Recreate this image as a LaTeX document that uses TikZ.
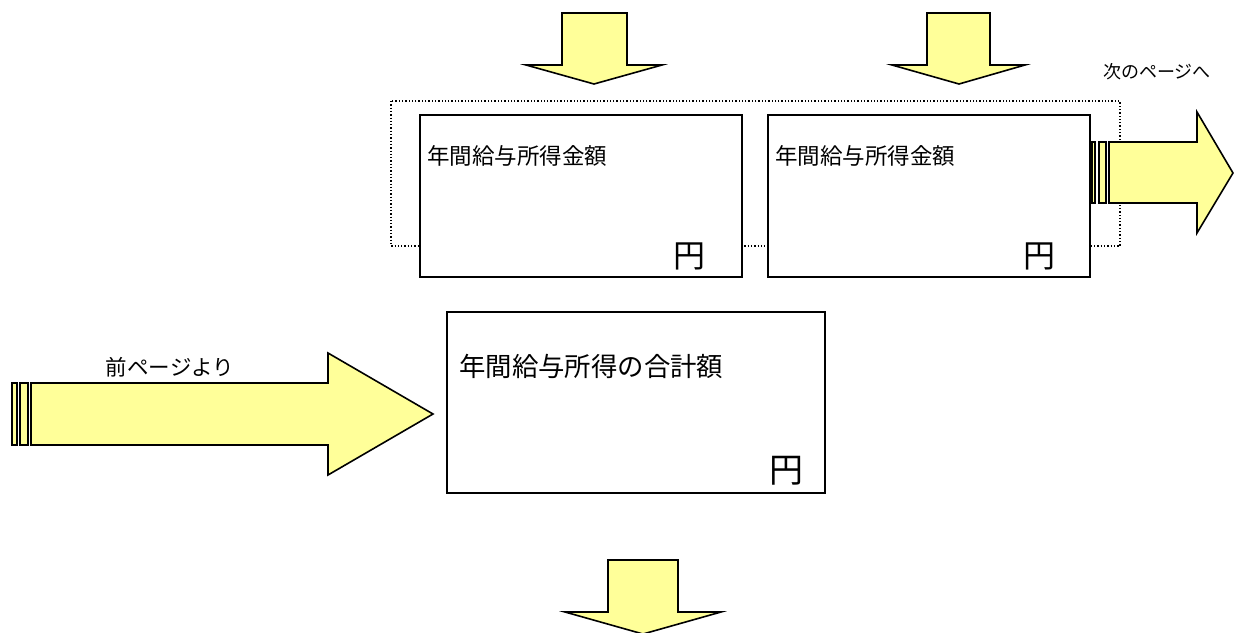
\documentclass[tikz,border=0pt]{standalone}
\usepackage{fontspec}
\usepackage{xcolor}
\usepackage{tikz}
\newfontfamily\jpfont{Noto Sans CJK JP}
\definecolor{arrowyellow}{HTML}{FFFF99}

\begin{document}
\begin{tikzpicture}[x=1pt,y=-1pt,
    box/.style={draw,line width=1.9pt,fill=white,inner sep=0pt},
    yarrow/.style={draw,line width=1.6pt,fill=arrowyellow,line join=miter},
    lbl/.style={inner sep=0pt,font=\jpfont}]
  \clip (0,0) rectangle (1237,632);
  \fill[white] (0,0) rectangle (1237,632);

  % dotted frame behind the two upper boxes
  \draw[dotted,line width=1.3pt] (391,101) rectangle (1120,246);

  % boxes
  \node[box,minimum width=322pt,minimum height=162pt] (gaku1) at (581,196) {};
  \node[box,minimum width=322pt,minimum height=162pt] (gaku2) at (929,196) {};
  \node[box,minimum width=378pt,minimum height=181pt] (goukei) at (636,402.5) {};

  \node[lbl,anchor=west,font=\jpfont\fontsize{22.5}{26}\selectfont]
    (txt1) at ([shift={(8,42)}]gaku1.north west) {年間給与所得金額};
  \node[lbl,anchor=west,font=\jpfont\fontsize{22.5}{26}\selectfont]
    (txt2) at ([shift={(8,42)}]gaku2.north west) {年間給与所得金額};
  \node[lbl,anchor=west,font=\jpfont\fontsize{26.4}{30}\selectfont]
    (txt3) at ([shift={(13,55)}]goukei.north west) {年間給与所得の合計額};

  \node[lbl,anchor=south east,font=\jpfont\fontsize{32}{36}\selectfont]
    (yen1) at ([shift={(-37,-8)}]gaku1.south east) {円};
  \node[lbl,anchor=south east,font=\jpfont\fontsize{32}{36}\selectfont]
    (yen2) at ([shift={(-35,-8)}]gaku2.south east) {円};
  \node[lbl,anchor=south east,font=\jpfont\fontsize{34}{38}\selectfont]
    (yen3) at ([shift={(-22,-9)}]goukei.south east) {円};

  % down arrows
  \draw[yarrow] (562,13) -- (627,13) -- (627,65) -- (662,65) -- (594,84)
    -- (526,65) -- (562,65) -- cycle;
  \draw[yarrow] (927,13) -- (990,13) -- (990,65) -- (1025,65) -- (959,84)
    -- (892,65) -- (927,65) -- cycle;
  \draw[yarrow] (608,560) -- (678,560) -- (678,612) -- (721,612) -- (643,634)
    -- (565,612) -- (608,612) -- cycle;

  % arrow to next page
  \draw[yarrow] (1092,142) rectangle (1095,203);
  \draw[yarrow] (1099,142) rectangle (1106,203);
  \draw[yarrow] (1109,142) -- (1197,142) -- (1197,112) -- (1233,173)
    -- (1197,233) -- (1197,203) -- (1109,203) -- cycle;
  \node[lbl,font=\jpfont\fontsize{18}{21}\selectfont] (next) at (1157,72) {次のページへ};

  % arrow from previous page
  \draw[yarrow] (12,383) rectangle (17,445);
  \draw[yarrow] (20,383) rectangle (28,445);
  \draw[yarrow] (31,383) -- (328,383) -- (328,353) -- (433,414)
    -- (328,475) -- (328,445) -- (31,445) -- cycle;
  \node[lbl,font=\jpfont\fontsize{21.5}{25}\selectfont] (prev) at (170,367) {前ページより};
\end{tikzpicture}
\end{document}
